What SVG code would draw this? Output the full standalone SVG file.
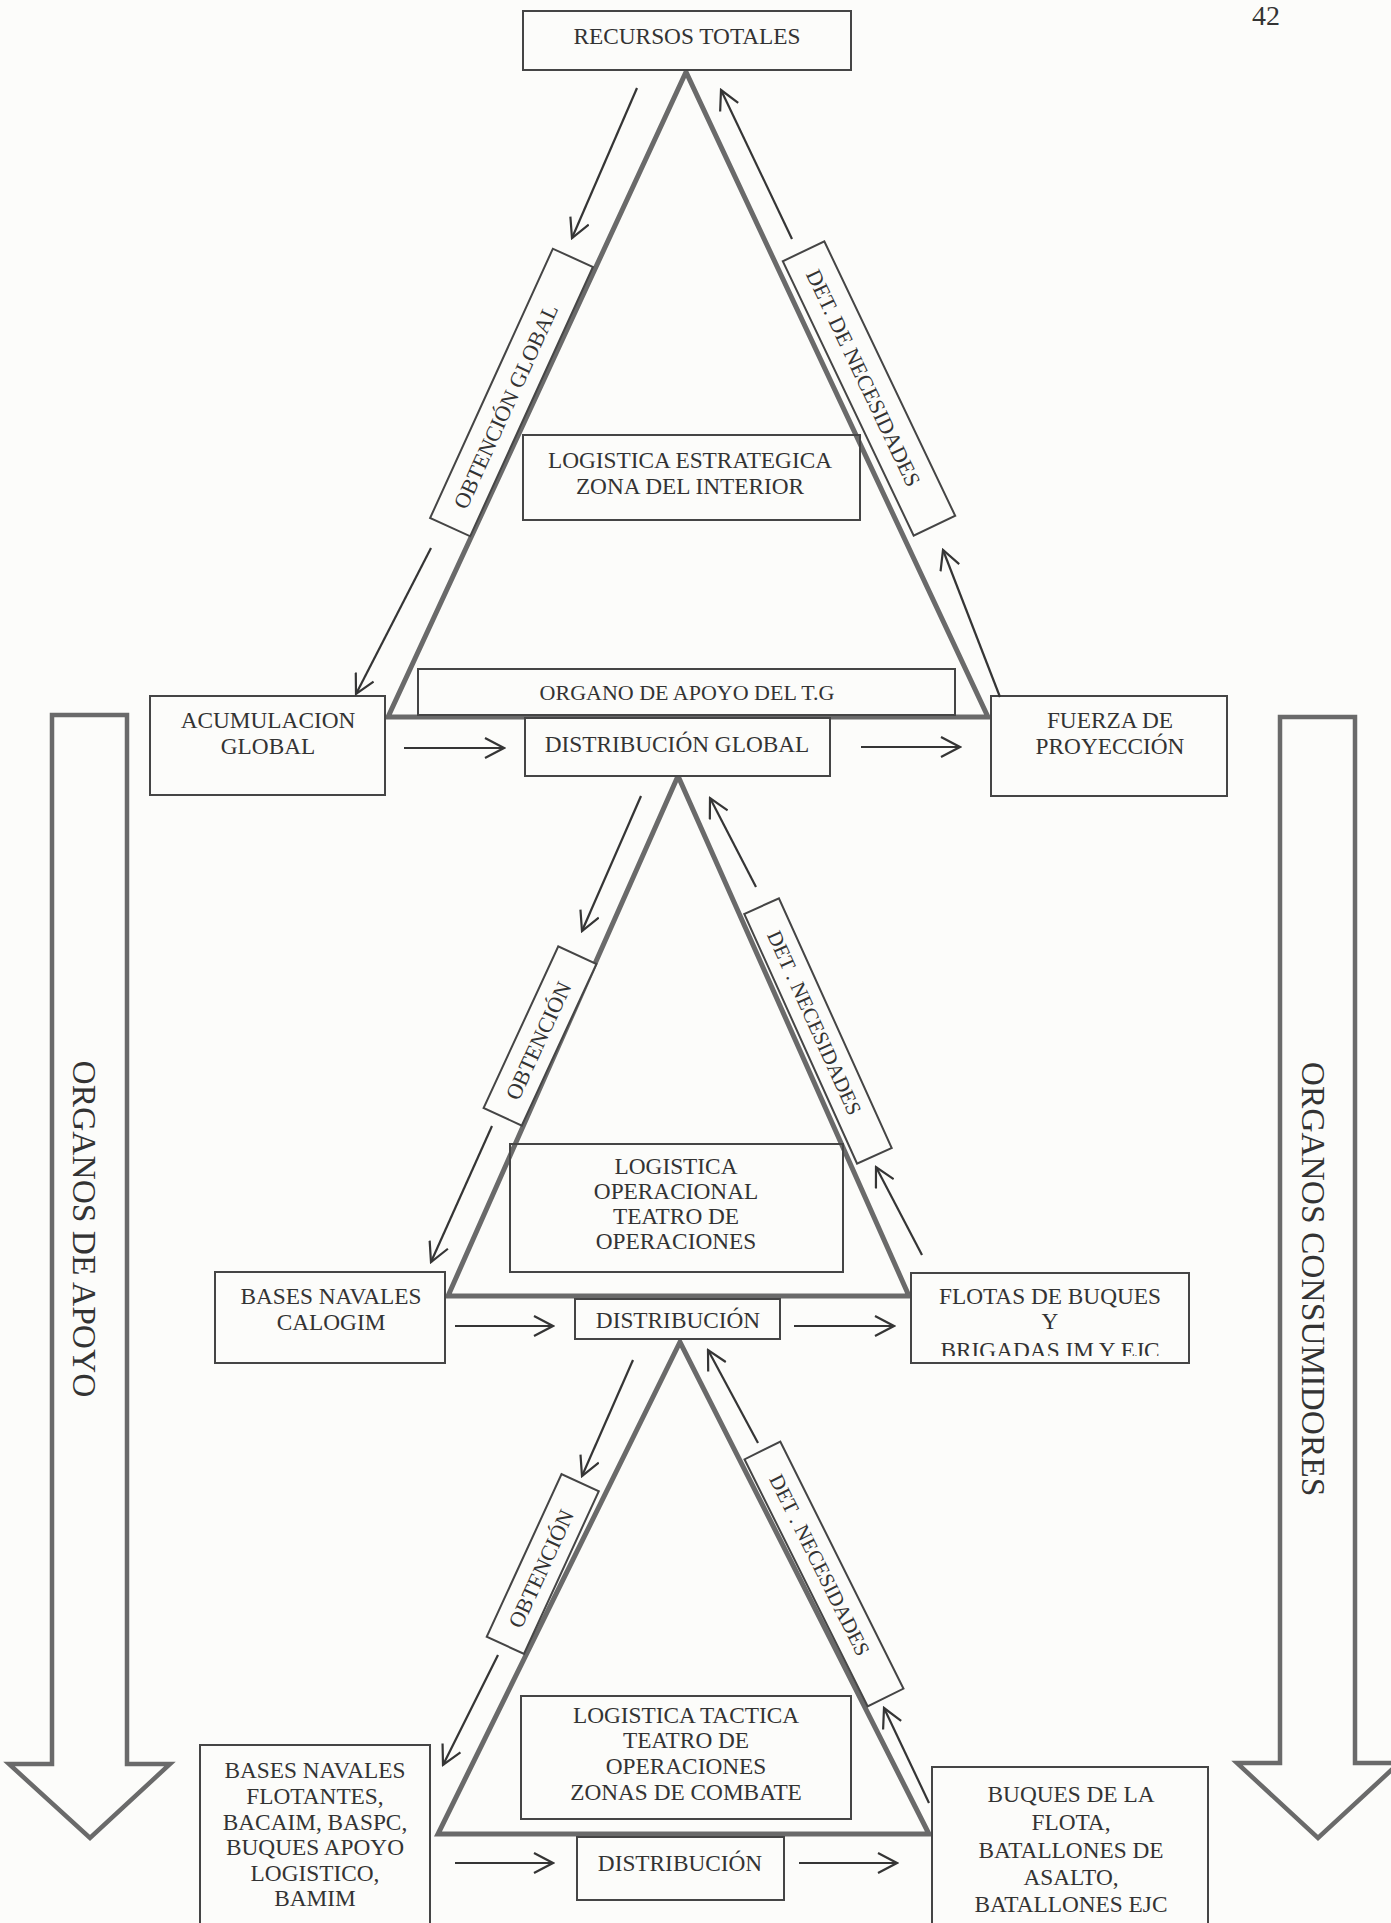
<svg xmlns="http://www.w3.org/2000/svg" width="1391" height="1923" viewBox="0 0 1391 1923">
<style>
.bg{fill:#fcfcfa}
.box{fill:none;stroke:#454545;stroke-width:2}
.tri{fill:none;stroke:#6a6a6a;stroke-width:5;stroke-linejoin:miter}
.big{fill:none;stroke:#6a6a6a;stroke-width:4.5;stroke-linejoin:miter}
.arr{fill:none;stroke:#353535;stroke-width:2.2;marker-end:url(#v)}
text{font-family:"Liberation Serif","Times New Roman",serif;font-size:23.3px;fill:#333;text-anchor:middle}
.side{font-size:33.5px}
.rot{font-size:22px}
</style>
<defs>
<marker id="v" viewBox="0 0 22 22" refX="20" refY="11" markerWidth="22" markerHeight="22" markerUnits="userSpaceOnUse" orient="auto">
<path d="M1,1 L20,11 L1,21" fill="none" stroke="#353535" stroke-width="2.2"/>
</marker>
<clipPath id="clipFlotas"><rect x="911" y="1273" width="278" height="83"/></clipPath>
</defs>
<rect class="bg" x="0" y="0" width="1391" height="1923"/>

<text x="1266" y="25" style="font-size:28px">42</text>

<g id="triangles">
<polygon class="tri" points="686,72 388,717 988,717"/>
<polygon class="tri" points="678,776 448,1296 909,1296"/>
<polygon class="tri" points="680,1342 438,1834 929,1834"/>
</g>

<g id="organos-apoyo">
<path class="big" d="M52,715 L127,715 L127,1764 L170,1764 L90,1838 L9,1764 L52,1764 Z"/>
<text class="side" transform="translate(73,1229) rotate(90)">ORGANOS DE APOYO</text>
</g>
<g id="organos-consumidores">
<path class="big" d="M1280,717 L1355,717 L1355,1763 L1399,1763 L1318,1838 L1237,1763 L1280,1763 Z"/>
<text class="side" transform="translate(1302,1279) rotate(90)">ORGANOS CONSUMIDORES</text>
</g>

<g id="recursos-totales">
<rect class="box" x="523" y="11" width="328" height="59" style="fill:#fcfcfa"/>
<text x="687" y="44">RECURSOS TOTALES</text>
</g>

<g id="obtencion-global">
<g transform="translate(511.5,392.5) rotate(-65.5)">
<rect class="box" x="-148" y="-22" width="296" height="44" style="fill:#fcfcfa"/>
<text class="rot" x="-15" y="8">OBTENCIÓN GLOBAL</text>
</g>
</g>
<g id="det-necesidades-1">
<g transform="translate(869,388.5) rotate(64.5)">
<rect class="box" x="-152" y="-23" width="304" height="46" style="fill:#fcfcfa"/>
<text class="rot" x="-12" y="8">DET. DE NECESIDADES</text>
</g>
</g>

<g id="logistica-estrategica">
<rect class="box" x="523" y="435" width="337" height="85"/>
<text x="690" y="468">LOGISTICA ESTRATEGICA</text>
<text x="690" y="494">ZONA DEL INTERIOR</text>
</g>

<g id="organo-apoyo-tg">
<rect class="box" x="418" y="669" width="537" height="46"/>
<text x="687" y="700" style="font-size:22px">ORGANO DE APOYO DEL T.G</text>
</g>

<g id="acumulacion-global">
<rect class="box" x="150" y="696" width="235" height="99" style="fill:#fcfcfa"/>
<text x="268" y="728">ACUMULACION</text>
<text x="268" y="754">GLOBAL</text>
</g>

<g id="distribucion-global">
<rect class="box" x="525" y="718" width="305" height="58" style="fill:#fcfcfa"/>
<text x="677" y="752">DISTRIBUCIÓN GLOBAL</text>
</g>

<g id="fuerza-proyeccion">
<rect class="box" x="991" y="696" width="236" height="100" style="fill:#fcfcfa"/>
<text x="1110" y="728">FUERZA DE</text>
<text x="1110" y="754">PROYECCIÓN</text>
</g>

<g id="obtencion-2">
<g transform="translate(540,1036) rotate(-65.2)">
<rect class="box" x="-89" y="-21" width="178" height="42" style="fill:#fcfcfa"/>
<text class="rot" x="-5" y="8">OBTENCIÓN</text>
</g>
</g>
<g id="det-necesidades-2">
<g transform="translate(818,1031) rotate(65.7)">
<rect class="box" x="-137" y="-19" width="274" height="38" style="fill:#fcfcfa"/>
<text x="-9" y="7" style="font-size:21px">DET . NECESIDADES</text>
</g>
</g>

<g id="logistica-operacional">
<rect class="box" x="510" y="1144" width="333" height="128"/>
<text x="676" y="1174">LOGISTICA</text>
<text x="676" y="1199">OPERACIONAL</text>
<text x="676" y="1224">TEATRO DE</text>
<text x="676" y="1249">OPERACIONES</text>
</g>

<g id="bases-navales-calogim">
<rect class="box" x="215" y="1272" width="230" height="91" style="fill:#fcfcfa"/>
<text x="331" y="1304">BASES NAVALES</text>
<text x="331" y="1330">CALOGIM</text>
</g>

<g id="distribucion-2">
<rect class="box" x="575" y="1299" width="205" height="40" style="fill:#fcfcfa"/>
<text x="678" y="1328">DISTRIBUCIÓN</text>
</g>

<g id="flotas-buques">
<rect class="box" x="911" y="1273" width="278" height="90" style="fill:#fcfcfa"/>
<text x="1050" y="1304">FLOTAS DE BUQUES</text>
<text x="1050" y="1329">Y</text>
<text x="1050" y="1358" clip-path="url(#clipFlotas)">BRIGADAS IM Y EJC</text>
</g>

<g id="obtencion-3">
<g transform="translate(542.75,1564) rotate(-65.3)">
<rect class="box" x="-89.5" y="-20.5" width="179" height="41" style="fill:#fcfcfa"/>
<text class="rot" x="-5" y="8">OBTENCIÓN</text>
</g>
</g>
<g id="det-necesidades-3">
<g transform="translate(824,1574) rotate(63.5)">
<rect class="box" x="-138" y="-20" width="276" height="40" style="fill:#fcfcfa"/>
<text x="-10" y="7" style="font-size:21px">DET . NECESIDADES</text>
</g>
</g>

<g id="logistica-tactica">
<rect class="box" x="521" y="1696" width="330" height="123"/>
<text x="686" y="1723">LOGISTICA TACTICA</text>
<text x="686" y="1748">TEATRO DE</text>
<text x="686" y="1774">OPERACIONES</text>
<text x="686" y="1800">ZONAS DE COMBATE</text>
</g>

<g id="bases-navales-flotantes">
<rect class="box" x="200" y="1745" width="230" height="190" style="fill:#fcfcfa"/>
<text x="315" y="1778">BASES NAVALES</text>
<text x="315" y="1804">FLOTANTES,</text>
<text x="315" y="1830">BACAIM, BASPC,</text>
<text x="315" y="1855">BUQUES APOYO</text>
<text x="315" y="1881">LOGISTICO,</text>
<text x="315" y="1906">BAMIM</text>
</g>

<g id="distribucion-3">
<rect class="box" x="577" y="1837" width="207" height="63" style="fill:#fcfcfa"/>
<text x="680" y="1871">DISTRIBUCIÓN</text>
</g>

<g id="buques-flota">
<rect class="box" x="932" y="1767" width="276" height="170" style="fill:#fcfcfa"/>
<text x="1071" y="1802">BUQUES DE LA</text>
<text x="1071" y="1830">FLOTA,</text>
<text x="1071" y="1858">BATALLONES DE</text>
<text x="1071" y="1885">ASALTO,</text>
<text x="1071" y="1912">BATALLONES EJC</text>
</g>

<g id="connectors">
<line class="arr" x1="637" y1="88" x2="572" y2="238"/>
<line class="arr" x1="792" y1="239" x2="721" y2="90"/>
<line class="arr" x1="431" y1="548" x2="356" y2="694"/>
<line class="arr" x1="1000" y1="697" x2="943" y2="550"/>
<line class="arr" x1="404" y1="748" x2="504" y2="748"/>
<line class="arr" x1="861" y1="747" x2="960" y2="747"/>
<line class="arr" x1="641" y1="796" x2="582" y2="931"/>
<line class="arr" x1="492" y1="1126" x2="431" y2="1262"/>
<line class="arr" x1="756" y1="887" x2="710" y2="798"/>
<line class="arr" x1="922" y1="1255" x2="876" y2="1167"/>
<line class="arr" x1="455" y1="1326" x2="553" y2="1326"/>
<line class="arr" x1="794" y1="1326" x2="894" y2="1326"/>
<line class="arr" x1="633" y1="1360" x2="582" y2="1476"/>
<line class="arr" x1="498" y1="1655" x2="443" y2="1765"/>
<line class="arr" x1="758" y1="1443" x2="708" y2="1350"/>
<line class="arr" x1="929" y1="1803" x2="884" y2="1708"/>
<line class="arr" x1="455" y1="1863" x2="553" y2="1863"/>
<line class="arr" x1="799" y1="1863" x2="897" y2="1863"/>
</g>
</svg>
